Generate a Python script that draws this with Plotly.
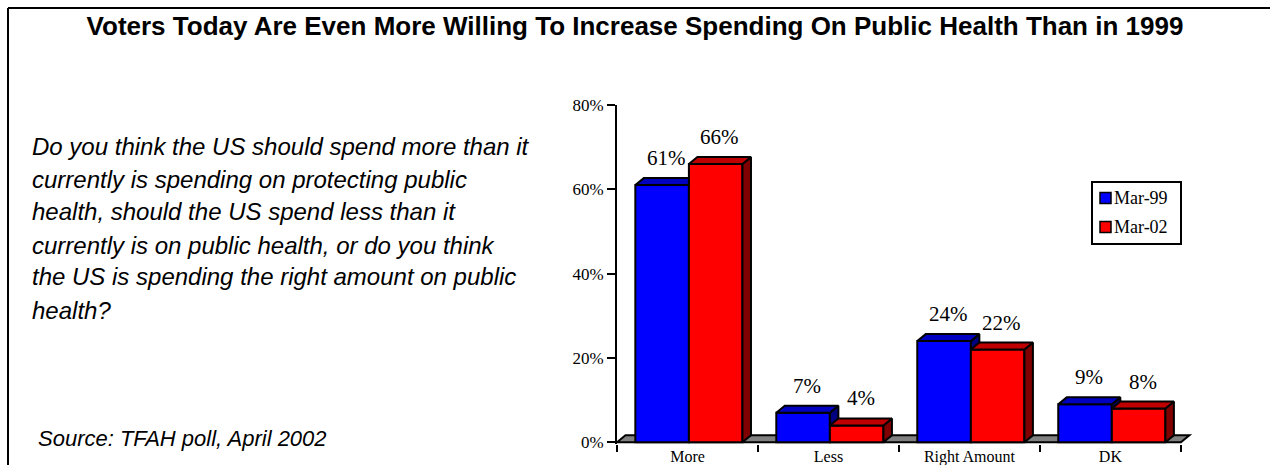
import plotly.graph_objects as go

# ---------------- data ----------------
categories = ["More", "Less", "Right Amount", "DK"]
mar99 = [61, 7, 24, 9]
mar02 = [66, 4, 22, 8]
series_names = ["Mar-99", "Mar-02"]
y_tick_vals = [0, 20, 40, 60, 80]
y_tick_text = ["0%", "20%", "40%", "60%", "80%"]

title_text = "Voters Today Are Even More Willing To Increase Spending On Public Health Than in 1999"
question_lines = [
    "Do you think the US should spend more than it",
    "currently is spending on protecting public",
    "health, should the US spend less than it",
    "currently is on public health, or do you think",
    "the US is spending the right amount on public",
    "health?",
]
source_text = "Source: TFAH poll, April 2002"

# ---------------- geometry / style ----------------
W, H = 1270, 465
ML, MR, MT, MB = 617, 75, 105, 21
PW, PH = W - ML - MR, H - MT - MB
XR = [-0.5, 3.6]
YR = [-0.4, 80]

def px_x(px):
    return (px - ML) / PW

def px_y(py):
    return (H - MB - py) / PH

BAR_W = 0.38
B_OFF = -0.37
DX = 8.5 / (PW / (XR[1] - XR[0]))
DY = 7.0 / (PH / (YR[1] - YR[0]))

BLUE, BLUE_TOP, BLUE_SIDE = "#0000FF", "#0000C0", "#000080"
RED, RED_TOP, RED_SIDE = "#FF0000", "#C00000", "#800000"
SERIF = "Liberation Serif, Times New Roman, serif"
SANS = "Liberation Sans, Arial, sans-serif"
SERIES_COLORS = [BLUE, RED]

xs = list(range(len(categories)))

fig = go.Figure()

# front faces
fig.add_trace(go.Bar(x=xs, y=mar99, name=series_names[0], width=BAR_W, offset=B_OFF,
                     marker=dict(color=BLUE, line=dict(color="black", width=2)),
                     showlegend=False))
fig.add_trace(go.Bar(x=xs, y=mar02, name=series_names[1], width=BAR_W, offset=B_OFF + BAR_W,
                     marker=dict(color=RED, line=dict(color="black", width=2)),
                     showlegend=False))

def poly_trace(polys, color):
    px_, py_ = [], []
    for p in polys:
        for (a, b) in p + [p[0]]:
            px_.append(a)
            py_.append(b)
        px_.append(None)
        py_.append(None)
    return go.Scatter(x=px_, y=py_, mode="lines", fill="toself", fillcolor=color,
                      line=dict(color="black", width=2), showlegend=False,
                      hoverinfo="skip")

blue_side, red_side, red_top, blue_top = [], [], [], []
for i, b, r in zip(xs, mar99, mar02):
    x0 = i + B_OFF
    x1 = x0 + BAR_W
    x2 = x1 + BAR_W
    if b > r:
        blue_side.append([(x1, r), (x1, b), (x1 + DX, b + DY), (x1 + DX, r)])
        blue_top.append([(x0, b), (x1, b), (x1 + DX, b + DY), (x0 + DX, b + DY)])
    else:
        blue_top.append([(x0, b), (x1, b), (x1, b + DY), (x0 + DX, b + DY)])
    red_side.append([(x2, 0), (x2, r), (x2 + DX, r + DY), (x2 + DX, DY)])
    red_top.append([(x1, r), (x2, r), (x2 + DX, r + DY), (x1 + DX, r + DY)])

if blue_side:
    fig.add_trace(poly_trace(blue_side, BLUE_SIDE))
fig.add_trace(poly_trace(red_side, RED_SIDE))
fig.add_trace(poly_trace(red_top, RED_TOP))
fig.add_trace(poly_trace(blue_top, BLUE_TOP))

# floor
floor_path = (f"M {XR[0]},0 L {len(categories)-0.5},0 L {len(categories)-0.5+DX},{DY} "
              f"L {XR[0]+DX},{DY} Z")
shapes = [dict(type="path", path=floor_path, xref="x", yref="y", layer="below",
               fillcolor="#808080", line=dict(color="black", width=2))]

# frame lines
shapes.append(dict(type="line", xref="paper", yref="paper", x0=px_x(8), x1=px_x(1275),
                   y0=px_y(8), y1=px_y(8), line=dict(color="black", width=2)))
shapes.append(dict(type="line", xref="paper", yref="paper", x0=px_x(8), x1=px_x(8),
                   y0=px_y(8), y1=px_y(470), line=dict(color="black", width=2)))
# legend box
shapes.append(dict(type="rect", xref="paper", yref="paper", x0=px_x(1092), x1=px_x(1181),
                   y0=px_y(244), y1=px_y(182), line=dict(color="black", width=2),
                   fillcolor="rgba(0,0,0,0)"))

annotations = []
# legend entries
leg_y = [198, 227]
for name, col, yc in zip(series_names, SERIES_COLORS, leg_y):
    shapes.append(dict(type="rect", xref="paper", yref="paper", x0=px_x(1100), x1=px_x(1111),
                       y0=px_y(yc + 5.5), y1=px_y(yc - 5.5), fillcolor=col,
                       line=dict(color="black", width=1.5)))
    annotations.append(dict(x=px_x(1112), y=px_y(yc), xref="paper", yref="paper",
                            xanchor="left", yanchor="middle", showarrow=False, text=name,
                            font=dict(family=SERIF, size=18, color="black")))

# value labels
for i, b, r in zip(xs, mar99, mar02):
    for v, xc in ((b, i + B_OFF + BAR_W / 2), (r, i + B_OFF + 1.5 * BAR_W)):
        annotations.append(dict(x=xc + DX / 2, y=v + DY, xref="x", yref="y",
                                text=f"{v}%", showarrow=False, yanchor="bottom",
                                yshift=6, font=dict(family=SERIF, size=21, color="black")))

# question text
q_base = [153, 186, 218, 252, 283, 317]
for line, base in zip(question_lines, q_base):
    annotations.append(dict(x=px_x(30), y=px_y(base - 7), xref="paper", yref="paper",
                            xanchor="left", yanchor="middle", showarrow=False,
                            text=f"<i>{line}</i>",
                            font=dict(family=SANS, size=24, color="black")))
annotations.append(dict(x=px_x(36), y=px_y(438), xref="paper", yref="paper",
                        xanchor="left", yanchor="middle", showarrow=False,
                        text=f"<i>{source_text}</i>",
                        font=dict(family=SANS, size=22, color="black")))

fig.update_layout(
    width=W, height=H,
    margin=dict(l=ML, r=MR, t=MT, b=MB, pad=0, autoexpand=False),
    paper_bgcolor="white", plot_bgcolor="white",
    barmode="overlay",
    showlegend=False,
    title=dict(text=f"<b>{title_text}</b>", x=635 / W, xanchor="center",
               y=1 - 26 / H, yanchor="middle", xref="container", yref="container",
               font=dict(family=SANS, size=26, color="black"), automargin=False),
    xaxis=dict(range=XR, tickvals=xs, ticktext=categories, ticks="", showgrid=False,
               zeroline=False, showline=False, ticklabelstandoff=1, automargin=False,
               tickfont=dict(family=SERIF, size=16, color="black"),
               minor=dict(tickvals=[k - 0.5 for k in range(len(categories) + 1)],
                          ticks="outside", ticklen=7, tickwidth=2, tickcolor="black",
                          showgrid=False)),
    yaxis=dict(range=YR, tickvals=y_tick_vals, ticktext=y_tick_text, ticks="outside",
               ticklen=8, tickwidth=2, tickcolor="black", showline=True, linewidth=2,
               linecolor="black", showgrid=False, zeroline=False, automargin=False,
               tickfont=dict(family=SERIF, size=17, color="black")),
    shapes=shapes,
    annotations=annotations,
)

fig.write_html("out.html")
